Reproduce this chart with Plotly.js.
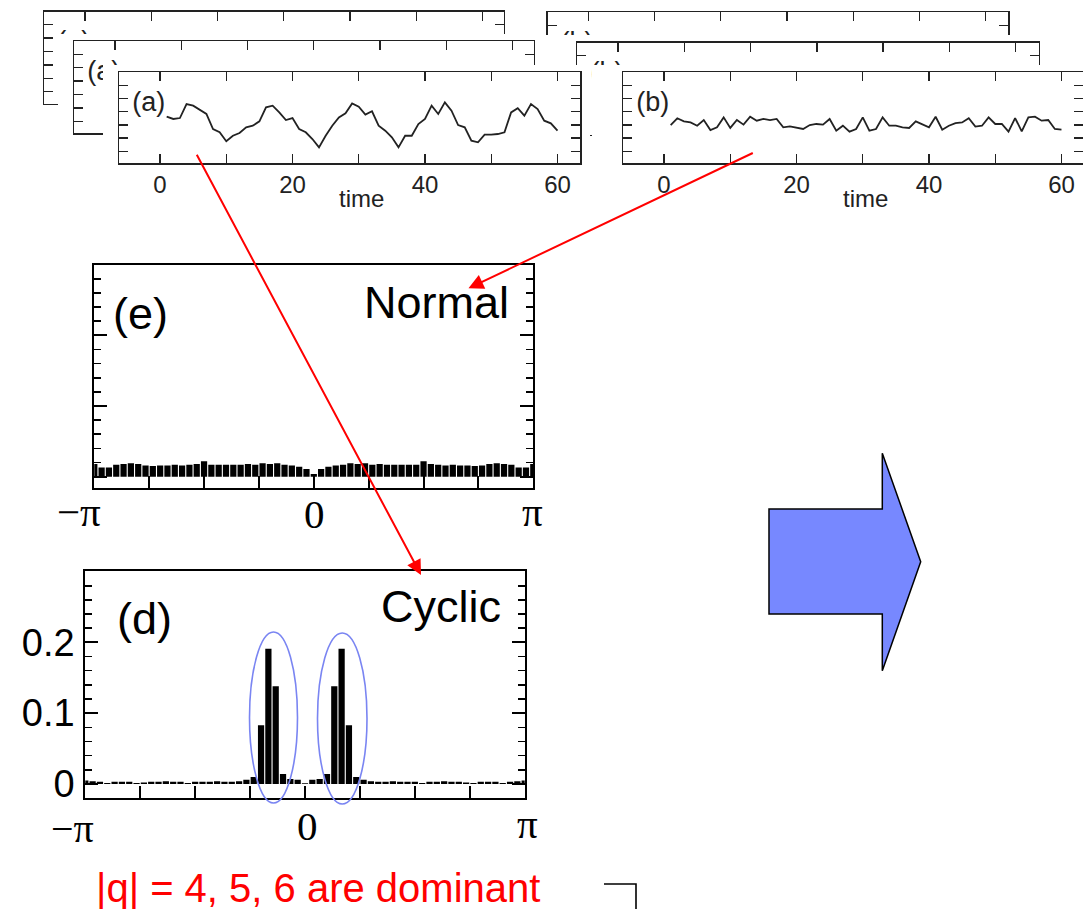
<!DOCTYPE html>
<html><head><meta charset="utf-8">
<script src="https://cdn.plot.ly/plotly-3.0.1.min.js"></script>
<style>html,body{margin:0;padding:0;background:#fff;}#chart{width:1083px;height:909px;}</style>
</head><body><div id="chart"></div>
<script>
// ---------------- data ----------------
const timeSteps = [1,2,3,4,5,6,7,8,9,10,11,12,13,14,15,16,17,18,19,20,21,22,23,24,25,26,27,28,29,30,
  31,32,33,34,35,36,37,38,39,40,41,42,43,44,45,46,47,48,49,50,51,52,53,54,55,56,57,58,59,60];
const cyclicSeries = [2.62,2.45,2.52,3.58,3.46,3.13,2.83,1.69,1.44,0.76,1.18,1.39,1.82,1.94,2.27,3.33,3.46,2.95,2.37,2.52,
  1.69,1.44,0.93,0.30,1.18,1.94,2.57,2.88,3.63,3.38,2.78,3.03,1.94,1.56,1.06,0.30,1.18,1.18,2.07,2.45,
  3.46,2.83,3.71,3.08,1.99,1.82,0.81,0.68,1.26,1.26,1.31,1.44,2.95,3.26,2.70,3.58,3.20,2.32,2.12,1.56];
const normalSeries = [1.99,2.50,2.27,2.19,1.94,2.37,1.61,1.82,2.57,1.77,2.37,2.02,2.62,2.32,2.45,2.37,2.45,1.82,1.89,1.77,
  1.69,1.99,2.07,2.02,2.45,1.56,1.94,1.49,1.69,2.57,1.56,1.69,2.57,1.94,1.94,1.82,1.77,2.27,2.07,1.82,
  2.62,1.64,1.94,2.14,2.19,2.50,1.87,1.94,2.57,2.07,2.07,1.49,2.52,1.51,2.57,2.62,2.32,2.37,1.69,1.64];
const qValues = [-30,-29,-28,-27,-26,-25,-24,-23,-22,-21,-20,-19,-18,-17,-16,-15,-14,-13,-12,-11,-10,-9,-8,-7,-6,-5,-4,-3,-2,-1,
  0,1,2,3,4,5,6,7,8,9,10,11,12,13,14,15,16,17,18,19,20,21,22,23,24,25,26,27,28,29,30];
const normalPower = [0.018,0.013,0.013,0.017,0.018,0.019,0.018,0.016,0.015,0.016,0.016,0.017,0.016,0.017,0.018,0.022,0.017,0.017,0.017,0.017,
  0.017,0.018,0.017,0.019,0.018,0.019,0.017,0.016,0.014,0.011,
  0.004,
  0.011,0.014,0.016,0.017,0.019,0.018,0.019,0.017,0.018,0.017,0.017,0.017,0.017,0.017,0.022,0.018,0.017,0.016,0.017,
  0.016,0.016,0.015,0.016,0.018,0.019,0.018,0.017,0.013,0.013,0.018];
const cyclicPower = [0.005,0.004,0.003,0.0015,0.003,0.003,0.003,0.0015,0.002,0.003,0.003,0.004,0.003,0.003,0.0015,0.003,0.003,0.003,0.004,0.003,
  0.003,0.004,0.006,0.010,0.083,0.191,0.138,0.014,0.007,0.006,
  0.001,
  0.006,0.007,0.014,0.138,0.191,0.083,0.010,0.006,0.004,0.003,0.003,0.004,0.003,0.003,0.003,0.0015,0.003,0.003,0.004,
  0.003,0.003,0.002,0.0015,0.003,0.003,0.003,0.0015,0.003,0.004,0.005];
const timeTickVals = [0,10,20,30,40,50,60];
const timeTickText = ['0','','20','','40','','60'];
const powerTickVals = [0,0.1,0.2];
const powerTickText = ['0','0.1','0.2'];
const phaseLabels = ['\u2212\u03c0','0','\u03c0'];
const panelNames = {cyclic:'(a)', normal:'(b)', spectNormal:'(e)', spectCyclic:'(d)'};
const spectTitles = {normal:'Normal', cyclic:'Cyclic'};
const noteText = '|q| = 4, 5, 6 are dominant';
const timeTitle = 'time';

// ---------------- helpers ----------------
const W = 1083, H = 909;
const X = p => p / W;
const Y = p => 1 - p / H;
const dom = (l, r) => [Math.max(0, X(l)), Math.min(1, X(r))];
const domY = (t, b) => [Y(b), Y(t)];
const axN = (k, i) => k + 'axis' + (i === 1 ? '' : i);
const axI = (k, i) => k + (i === 1 ? '' : i);
const SANS = 'Liberation Sans, Arial, sans-serif';
const SERIF = 'Liberation Serif, Times New Roman, serif';
const phases = qValues.map(q => 2 * Math.PI * q / 60);

const layout = {
  width: W, height: H, margin: {l: 0, r: 0, t: 0, b: 0},
  paper_bgcolor: '#fff', plot_bgcolor: '#fff', showlegend: false,
  bargap: 0.15, shapes: [], annotations: []
};
const data = [];

const TX0 = -6.15, PXU = 6.624;   // time axis start, px per time unit
const TY0 = -0.886, TY1 = 5.985;  // time panel y range

function timePanel(i, f, label, series, showLabels) {
  const xr1 = TX0 + (f.r - f.l) / PXU;
  const common = {ticks: 'inside', ticklen: 9, tickwidth: 1.3, tickcolor: '#222', showline: true,
    linecolor: '#222', linewidth: 1.5, mirror: 'ticks', showgrid: false, zeroline: false, fixedrange: true};
  layout[axN('x', i)] = Object.assign({}, common, {domain: dom(f.l, f.r), anchor: axI('y', i),
    range: [TX0, xr1], tickmode: 'array', tickvals: timeTickVals, ticktext: timeTickText,
    showticklabels: showLabels, tickfont: {family: SANS, size: 24, color: '#222'}});
  layout[axN('y', i)] = Object.assign({}, common, {domain: domY(f.t, f.b), anchor: axI('x', i),
    range: [TY0, TY1], tickmode: 'array', tickvals: [0,1,2,3,4,5], showticklabels: false});
  const pyu = (f.b - f.t) / (TY1 - TY0);
  data.push({type: 'scatter', mode: 'text', x: [TX0 + 13 / PXU], y: [TY1 - 32 / pyu], text: [label],
    textposition: 'middle right', textfont: {family: SANS, size: 27, color: '#222'},
    hoverinfo: 'skip', xaxis: axI('x', i), yaxis: axI('y', i)});
  if (series) {
    data.push({type: 'scatter', mode: 'lines', x: timeSteps, y: series,
      line: {color: '#222', width: 1.8}, hoverinfo: 'skip', xaxis: axI('x', i), yaxis: axI('y', i)});
  }
}
function maskPanel(i, f) {
  layout[axN('x', i)] = {domain: dom(f.l, f.r), anchor: axI('y', i), visible: false, range: [0, 1], fixedrange: true};
  layout[axN('y', i)] = {domain: domY(f.t, f.b), anchor: axI('x', i), visible: false, range: [0, 1], fixedrange: true};
  data.push({type: 'scatter', x: [], y: [], xaxis: axI('x', i), yaxis: axI('y', i), hoverinfo: 'skip'});
}

// stacked time-series panels (back to front)
timePanel(1, {l: 44.3, r: 503.7, t: 11.5, b: 103.5}, panelNames.cyclic, null, false);
timePanel(2, {l: 547.6, r: 1008, t: 12, b: 104}, panelNames.normal, null, false);
maskPanel(3, {l: 58, r: 541, t: 34, b: 145});
timePanel(4, {l: 74.3, r: 533.6, t: 41, b: 133.3}, panelNames.cyclic, null, false);
maskPanel(5, {l: 541, r: 1046, t: 35, b: 145});
timePanel(6, {l: 577.4, r: 1038.6, t: 42.5, b: 134.5}, panelNames.normal, null, false);
maskPanel(7, {l: 103, r: 590, t: 65, b: 215});
timePanel(8, {l: 119.3, r: 580, t: 72.3, b: 163}, panelNames.cyclic, cyclicSeries, true);
maskPanel(9, {l: 592, r: 1083, t: 65, b: 215});
timePanel(10, {l: 623.3, r: 1083, t: 72.3, b: 163}, panelNames.normal, normalSeries, true);

// spectrum panels
function spectPanel(i, f, yr, power, showY) {
  const frame = {showline: true, linecolor: '#000', linewidth: 2, showgrid: false, zeroline: false, fixedrange: true,
    ticks: 'inside', tickcolor: '#000', tickwidth: 2};
  layout[axN('x', i)] = Object.assign({}, frame, {domain: dom(f.l, f.r), anchor: axI('y', i),
    range: [-Math.PI, Math.PI], tickmode: 'array', tickvals: [-3,-2,-1,0,1,2,3].map(k => k * Math.PI / 4),
    ticklen: 12, mirror: true, showticklabels: false});
  layout[axN('y', i)] = Object.assign({}, frame, {domain: domY(f.t, f.b), anchor: axI('x', i),
    range: yr, tickmode: 'array', tickvals: powerTickVals, ticktext: powerTickText, ticklen: 13, mirror: 'ticks',
    showticklabels: showY, ticklabelstandoff: 1, tickfont: {family: SANS, size: 38, color: '#000'},
    minor: {tickmode: 'linear', tick0: 0, dtick: 0.02, ticks: 'inside', ticklen: 7, tickwidth: 1.6, tickcolor: '#000'}});
  data.push({type: 'bar', x: phases, y: power, marker: {color: '#000', line: {width: 0}},
    hoverinfo: 'skip', xaxis: axI('x', i), yaxis: axI('y', i)});
}
spectPanel(11, {l: 94.3, r: 533.3, t: 265, b: 488.3}, [-0.0164, 0.2994], normalPower, false);
spectPanel(12, {l: 85.3, r: 524.7, t: 571, b: 797.7}, [-0.0194, 0.3008], cyclicPower, true);

// ---------------- annotations ----------------
const A = layout.annotations;
function txt(text, x, y, size, opts) {
  A.push(Object.assign({text: text, x: X(x), y: Y(y), xref: 'paper', yref: 'paper', showarrow: false,
    xanchor: 'center', yanchor: 'middle', font: {family: SANS, size: size, color: '#000'}}, opts || {}));
}
txt(timeTitle, 361, 199, 24, {font: {family: SANS, size: 24, color: '#222'}});
txt(timeTitle, 865, 199, 24, {font: {family: SANS, size: 24, color: '#222'}});
txt(spectTitles.normal, 511, 303, 45, {xanchor: 'right'});
txt(panelNames.spectNormal, 111, 313, 45, {xanchor: 'left'});
txt(spectTitles.cyclic, 503, 606, 45, {xanchor: 'right'});
txt(panelNames.spectCyclic, 115, 618, 45, {xanchor: 'left'});
const serif = s => ({font: {family: SERIF, size: s, color: '#000'}});
txt(phaseLabels[0], 79, 512, 41, serif(41));
txt(phaseLabels[1], 314, 514, 41, serif(41));
txt(phaseLabels[2], 532, 512, 41, serif(41));
txt(phaseLabels[0], 72, 828, 40, serif(40));
txt(phaseLabels[1], 307, 826, 41, serif(41));
txt(phaseLabels[2], 527, 824, 41, serif(41));
txt(noteText, 94, 888, 40, {xanchor: 'left', font: {family: SANS, size: 40, color: '#ff0000'}});

// red arrows
function arrow(tx, ty, tipx, tipy) {
  A.push({text: '', x: X(tipx), y: Y(tipy), xref: 'paper', yref: 'paper', showarrow: true,
    ax: tx - tipx, ay: ty - tipy, axref: 'pixel', ayref: 'pixel', arrowhead: 2, arrowsize: 1.5,
    arrowwidth: 2, arrowcolor: '#ff0000', standoff: 0, startstandoff: 0});
}
arrow(196, 153.3, 421, 575);
arrow(754.3, 152.3, 468.5, 288.3);

// ---------------- shapes ----------------
const S = layout.shapes;
S.push({type: 'circle', xref: 'paper', yref: 'paper', x0: X(249.5), x1: X(297.5), y0: Y(803), y1: Y(632),
  line: {color: '#7a85f2', width: 1.6}});
S.push({type: 'circle', xref: 'paper', yref: 'paper', x0: X(317.5), x1: X(367), y0: Y(804), y1: Y(633),
  line: {color: '#7a85f2', width: 1.6}});
const pts = [[769,509],[882.3,509],[882.3,453.3],[920.7,561.7],[882.3,670.7],[882.3,614],[769,614]];
S.push({type: 'path', xref: 'paper', yref: 'paper',
  path: 'M' + pts.map(p => X(p[0]).toFixed(5) + ',' + Y(p[1]).toFixed(5)).join('L') + 'Z',
  fillcolor: '#7788ff', line: {color: '#000', width: 1.5}});
S.push({type: 'path', xref: 'paper', yref: 'paper',
  path: 'M' + X(604) + ',' + Y(884) + 'L' + X(636) + ',' + Y(884) + 'L' + X(636) + ',' + Y(912),
  line: {color: '#000', width: 1.6}});

Plotly.newPlot('chart', data, layout, {staticPlot: true, displayModeBar: false});
</script></body></html>
